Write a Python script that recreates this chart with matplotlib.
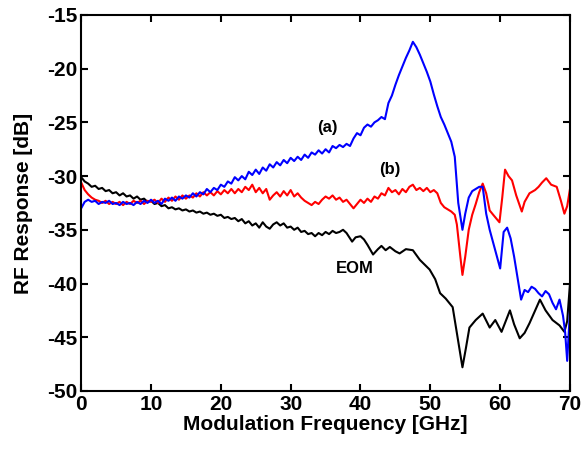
"""RF response of modulators (a), (b) and reference EOM."""

import matplotlib

matplotlib.use("Agg")
import matplotlib.pyplot as plt

# (a) blue trace
blue_x = [0, 0.5, 1, 1.5, 2, 2.5, 3, 3.5, 4, 4.5, 5, 5.5, 6, 6.5, 7, 7.5, 8, 8.5,
          9, 9.5, 10, 10.5, 11, 11.5, 12, 12.5, 13, 13.5, 14, 14.5, 15, 15.5, 16,
          16.5, 17, 17.5, 18, 18.5, 19, 19.5, 20, 20.5, 21, 21.5, 22, 22.5, 23,
          23.5, 24, 24.5, 25, 25.5, 26, 26.5, 27, 27.5, 28, 28.5, 29, 29.5, 30,
          30.5, 31, 31.5, 32, 32.5, 33, 33.5, 34, 34.5, 35, 35.5, 36, 36.5, 37,
          37.5, 38, 38.5, 39, 39.5, 40, 40.5, 41, 41.5, 42, 42.5, 43, 43.5, 44,
          44.5, 45, 45.5, 46, 46.5, 47, 47.5, 48, 48.5, 49, 49.5, 50, 50.5, 51,
          51.5, 52, 52.5, 53, 53.5, 54, 54.6, 55, 55.5, 56, 57, 57.5, 58, 58.5,
          59, 59.5, 60, 60.5, 61, 61.5, 62, 62.5, 63, 63.5, 64, 64.5, 65, 65.5,
          66, 66.5, 67, 67.5, 68, 68.5, 69, 69.3, 69.6, 70]
blue_y = [-33.0, -32.4, -32.2, -32.4, -32.3, -32.6, -32.4, -32.5, -32.3, -32.6,
          -32.5, -32.7, -32.4, -32.6, -32.5, -32.7, -32.4, -32.6, -32.3, -32.5,
          -32.2, -32.5, -32.3, -32.6, -32.1, -32.3, -32.0, -32.3, -31.9, -32.1,
          -31.8, -32.0, -31.6, -31.9, -31.5, -31.7, -31.2, -31.5, -31.1, -31.3,
          -30.8, -31.0, -30.5, -30.7, -30.1, -30.4, -30.0, -30.3, -29.6, -29.9,
          -29.4, -29.8, -29.2, -29.5, -28.9, -29.2, -28.7, -29.0, -28.5, -28.8,
          -28.3, -28.6, -28.2, -28.5, -28.0, -28.3, -27.8, -28.0, -27.6, -27.9,
          -27.5, -27.8, -27.2, -27.4, -27.1, -27.3, -27.0, -27.2, -26.5, -26.0,
          -26.2, -25.5, -25.2, -25.4, -25.0, -24.8, -24.5, -24.7, -23.2, -22.5,
          -21.5, -20.6, -19.8, -19.0, -18.3, -17.5, -18.0, -18.7, -19.5, -20.3,
          -21.2, -22.4, -23.5, -24.5, -25.2, -26.0, -26.8, -28.2, -32.5, -35.0,
          -33.5, -32.0, -31.4, -31.0, -31.0, -33.5, -35.0, -36.2, -37.4, -38.6,
          -35.2, -34.8, -35.8, -37.5, -39.5, -41.5, -40.6, -40.8, -40.3, -40.5,
          -40.9, -41.2, -40.7, -41.0, -41.8, -42.4, -41.5, -43.0, -44.5, -47.2,
          -42.5]

# (b) red trace
red_x = [0, 0.5, 1, 1.5, 2, 2.5, 3, 3.5, 4, 4.5, 5, 5.5, 6, 6.5, 7, 7.5, 8, 8.5,
         9, 9.5, 10, 10.5, 11, 11.5, 12, 12.5, 13, 13.5, 14, 14.5, 15, 15.5, 16,
         16.5, 17, 17.5, 18, 18.5, 19, 19.5, 20, 20.5, 21, 21.5, 22, 22.5, 23,
         23.5, 24, 24.5, 25, 25.5, 26, 26.5, 27, 27.5, 28, 28.5, 29, 29.5, 30,
         30.5, 31, 31.5, 32, 32.5, 33, 33.5, 34, 34.5, 35, 35.5, 36, 36.5, 37,
         37.5, 38, 38.5, 39, 39.5, 40, 40.5, 41, 41.5, 42, 42.5, 43, 43.5, 44,
         44.5, 45, 45.5, 46, 46.5, 47, 47.5, 48, 48.5, 49, 49.5, 50, 50.5, 51,
         51.5, 52, 52.5, 53, 53.5, 53.8, 54.3, 54.6, 55, 55.5, 56, 56.5, 57,
         57.5, 58, 58.5, 59, 59.9, 60.3, 60.7, 61.2, 61.7, 62.3, 63.1, 63.5,
         64.2, 65, 65.5, 66, 66.6, 67.3, 68.1, 68.7, 69.2, 69.6, 70]
red_y = [-30.6, -31.3, -31.7, -32.0, -32.2, -32.3, -32.5, -32.3, -32.6, -32.4,
         -32.6, -32.4, -32.7, -32.4, -32.6, -32.3, -32.5, -32.3, -32.6, -32.3,
         -32.4, -32.2, -32.5, -32.1, -32.4, -32.0, -32.3, -31.9, -32.2, -31.8,
         -32.1, -31.8, -32.0, -31.6, -31.9, -31.5, -31.8, -31.5, -31.8, -31.4,
         -31.7, -31.3, -31.6, -31.2, -31.6, -31.2, -31.5, -31.0, -31.3, -30.8,
         -31.5, -31.1, -31.6, -31.2, -32.2, -31.8, -31.5, -31.9, -31.4, -31.8,
         -31.3, -31.9, -31.6, -32.0, -32.3, -32.5, -32.7, -32.4, -32.6, -32.2,
         -31.9, -32.1, -31.8, -32.2, -32.0, -32.4, -32.2, -32.6, -33.0, -32.6,
         -32.2, -32.5, -32.1, -32.4, -31.9, -32.1, -31.6, -31.8, -31.1, -31.5,
         -31.3, -31.7, -31.2, -31.5, -31.0, -30.8, -31.3, -31.1, -31.4, -31.1,
         -31.5, -31.3, -31.6, -32.5, -32.9, -33.1, -33.3, -33.6, -34.5, -37.5,
         -39.2, -37.5, -35.0, -33.6, -32.6, -31.5, -30.7, -31.6, -33.2, -33.6,
         -34.3, -32.0, -29.4, -30.0, -30.4, -31.8, -33.3, -32.4, -31.6, -31.3,
         -31.0, -30.6, -30.2, -30.8, -31.0, -32.3, -33.5, -32.8, -31.2]

# reference EOM, black trace
eom_x = [0, 0.5, 1, 1.5, 2, 2.5, 3, 3.5, 4, 4.5, 5, 5.5, 6, 6.5, 7, 7.5, 8, 8.5,
         9, 9.5, 10, 10.5, 11, 11.5, 12, 12.5, 13, 13.5, 14, 14.5, 15, 15.5, 16,
         16.5, 17, 17.5, 18, 18.5, 19, 19.5, 20, 20.5, 21, 21.5, 22, 22.5, 23,
         23.5, 24, 24.5, 25, 25.5, 26, 26.5, 27, 27.5, 28, 28.5, 29, 29.5, 30,
         30.5, 31, 31.5, 32, 32.5, 33, 33.5, 34, 34.5, 35, 35.5, 36, 36.5, 37,
         37.5, 38, 38.5, 38.8, 39.3, 40, 40.5, 41, 41.8, 42.5, 43, 43.6, 44.2,
         45, 45.6, 46.5, 47.5, 48.5, 49.9, 50.7, 51.4, 52.2, 53.2, 53.9, 54.6,
         55.1, 55.6, 56.5, 57.5, 58.5, 59.3, 60.2, 61.4, 62, 62.8, 63.5, 64.2,
         65.7, 66.5, 67.5, 68.5, 69.2, 69.6, 70]
eom_y = [-30.1, -30.5, -30.7, -31.0, -30.9, -31.2, -31.1, -31.4, -31.3, -31.6,
         -31.5, -31.8, -31.6, -31.9, -31.8, -32.1, -31.9, -32.2, -32.1, -32.4,
         -32.3, -32.6, -32.5, -32.8, -32.7, -33.0, -32.9, -33.1, -33.0, -33.2,
         -33.1, -33.3, -33.2, -33.4, -33.3, -33.5, -33.4, -33.6, -33.5, -33.7,
         -33.6, -33.9, -33.8, -34.0, -33.9, -34.2, -34.0, -34.4, -34.2, -34.6,
         -34.4, -34.8, -34.3, -34.7, -34.9, -34.5, -34.3, -34.6, -34.4, -34.8,
         -34.7, -35.0, -34.8, -35.2, -35.1, -35.4, -35.3, -35.6, -35.3, -35.5,
         -35.2, -35.4, -35.1, -35.3, -35.2, -35.0, -35.3, -35.8, -36.1, -35.7,
         -35.6, -35.9, -36.4, -37.3, -36.8, -36.5, -36.9, -36.6, -37.0, -37.2,
         -36.8, -36.9, -37.8, -38.7, -39.6, -40.9, -41.4, -42.2, -45.0, -47.8,
         -46.0, -44.1, -43.4, -42.8, -44.1, -43.4, -44.5, -42.5, -43.8, -45.1,
         -44.6, -43.7, -41.5, -42.5, -43.4, -43.9, -44.5, -43.5, -40.0]

x_ticks = [0, 10, 20, 30, 40, 50, 60, 70]
y_ticks = [-50, -45, -40, -35, -30, -25, -20, -15]

plt.rcParams["font.family"] = ["Liberation Sans", "DejaVu Sans"]
plt.rcParams["font.weight"] = "bold"
plt.rcParams["axes.unicode_minus"] = False

fig = plt.figure(figsize=(5.84, 4.53), dpi=100)
ax = fig.add_axes([0.139, 0.137, 0.837, 0.830])

ax.plot(eom_x, eom_y, color="black", lw=1.5)
ax.plot(red_x, red_y, color="red", lw=1.5)
ax.plot(blue_x, blue_y, color="blue", lw=1.5)

ax.text(35.3, -25.5, "(a)", fontsize=12, fontweight="bold", ha="center", va="center")
ax.text(44.2, -29.4, "(b)", fontsize=12, fontweight="bold", ha="center", va="center")
ax.text(39.2, -38.6, "EOM", fontsize=12, fontweight="bold", ha="center", va="center")

ax.set_xlim(0, 70)
ax.set_ylim(-50, -15)
ax.set_xticks(x_ticks)
ax.set_yticks(y_ticks)
ax.tick_params(direction="in", top=True, right=True, length=5, width=1.5,
               labelsize=15, pad=3)
for spine in ax.spines.values():
    spine.set_linewidth(1.5)
ax.set_xlabel("Modulation Frequency [GHz]", fontsize=15, fontweight="bold", labelpad=1)
ax.set_ylabel("RF Response [dB]", fontsize=15, fontweight="bold", labelpad=10)

fig.savefig("out.png", dpi=100)
